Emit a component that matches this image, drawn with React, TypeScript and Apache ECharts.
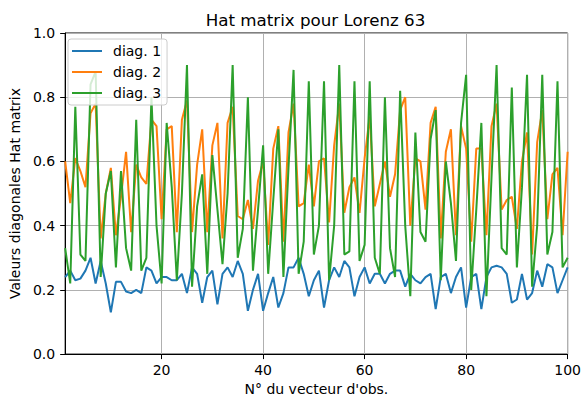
import React, { useEffect, useRef } from "react";
import * as echarts from "echarts";

const obsIndex: number[] = Array.from({ length: 100 }, (_, i) => i + 1);

const diag1: number[] = [
  0.24, 0.26, 0.23, 0.235, 0.26, 0.30, 0.22, 0.29, 0.22, 0.13,
  0.225, 0.225, 0.195, 0.19, 0.20, 0.19, 0.27, 0.26, 0.22, 0.24,
  0.24, 0.23, 0.23, 0.25, 0.19, 0.27, 0.25, 0.16, 0.24, 0.26,
  0.155, 0.25, 0.27, 0.24, 0.29, 0.25, 0.135, 0.20, 0.25, 0.135,
  0.19, 0.24, 0.145, 0.19, 0.27, 0.27, 0.30, 0.25, 0.18, 0.23,
  0.26, 0.145, 0.23, 0.27, 0.24, 0.29, 0.27, 0.18, 0.24, 0.27,
  0.22, 0.25, 0.25, 0.22, 0.25, 0.26, 0.26, 0.21, 0.25, 0.23,
  0.22, 0.24, 0.25, 0.14, 0.24, 0.25, 0.19, 0.24, 0.27, 0.145,
  0.24, 0.25, 0.14, 0.24, 0.27, 0.275, 0.27, 0.25, 0.16, 0.17,
  0.25, 0.17, 0.19, 0.26, 0.21, 0.28, 0.27, 0.19, 0.23, 0.27,
];

const diag2: number[] = [
  0.60, 0.47, 0.61, 0.57, 0.52, 0.75, 0.78, 0.36, 0.50, 0.58,
  0.37, 0.49, 0.63, 0.38, 0.59, 0.55, 0.53, 0.73, 0.71, 0.42,
  0.70, 0.71, 0.38, 0.73, 0.79, 0.38, 0.59, 0.70, 0.38, 0.65,
  0.72, 0.36, 0.72, 0.77, 0.43, 0.42, 0.48, 0.39, 0.54, 0.60,
  0.34, 0.64, 0.71, 0.35, 0.69, 0.78, 0.46, 0.47, 0.59, 0.46,
  0.60, 0.61, 0.41, 0.65, 0.78, 0.44, 0.52, 0.55, 0.44, 0.61,
  0.74, 0.46, 0.53, 0.60, 0.49, 0.56, 0.76, 0.80, 0.40, 0.61,
  0.60, 0.45, 0.72, 0.77, 0.36, 0.63, 0.70, 0.37, 0.71, 0.64,
  0.35, 0.64, 0.64, 0.37, 0.71, 0.78, 0.45, 0.48, 0.49, 0.39,
  0.60, 0.69, 0.31, 0.66, 0.76, 0.42, 0.56, 0.58, 0.37, 0.63,
];

const diag3: number[] = [
  0.33, 0.22, 0.77, 0.31, 0.29, 0.84, 0.88, 0.24, 0.50, 0.57,
  0.27, 0.57, 0.33, 0.26, 0.73, 0.26, 0.30, 0.80, 0.40, 0.22,
  0.72, 0.52, 0.23, 0.50, 0.90, 0.21, 0.46, 0.56, 0.25, 0.62,
  0.45, 0.28, 0.50, 0.90, 0.30, 0.39, 0.80, 0.26, 0.45, 0.65,
  0.25, 0.48, 0.70, 0.24, 0.58, 0.885, 0.25, 0.35, 0.85, 0.31,
  0.40, 0.85, 0.23, 0.40, 0.90, 0.31, 0.32, 0.85, 0.29, 0.34,
  0.85, 0.30, 0.25, 0.80, 0.33, 0.24, 0.82, 0.40, 0.18, 0.69,
  0.38, 0.35, 0.67, 0.76, 0.23, 0.60, 0.47, 0.29, 0.72, 0.87,
  0.20, 0.45, 0.72, 0.18, 0.55, 0.90, 0.33, 0.31, 0.83, 0.27,
  0.52, 0.87, 0.21, 0.40, 0.87, 0.31, 0.38, 0.85, 0.27, 0.30,
];

const seriesNames: string[] = ["diag. 1", "diag. 2", "diag. 3"];
const seriesColors: string[] = ["#1f77b4", "#ff7f0e", "#2ca02c"];
const xTicks: number[] = [20, 40, 60, 80, 100];

const titleText = "Hat matrix pour Lorenz 63";
const xName = "N° du vecteur d'obs.";
const yName = "Valeurs diagonales Hat matrix";

const FONT = "DejaVu Sans";

export default function App() {
  const ref = useRef<HTMLDivElement>(null);

  useEffect(() => {
    document.body.style.margin = "0";
    if (!ref.current) return;
    const chart = echarts.init(ref.current, undefined, { renderer: "svg" });
    const all = [diag1, diag2, diag3];
    chart.setOption({
      animation: false,
      backgroundColor: "#ffffff",
      textStyle: { fontFamily: FONT },
      title: {
        text: titleText,
        left: 315.5,
        top: 11,
        padding: 0,
        textAlign: "center",
        textStyle: { fontFamily: FONT, fontSize: 16.7, fontWeight: "normal", color: "#000" },
      },
      legend: {
        left: 68,
        top: 39,
        orient: "vertical",
        icon: "rect",
        itemWidth: 30,
        itemHeight: 2,
        itemGap: 5,
        padding: [4, 6, 4, 4],
        backgroundColor: "rgba(255,255,255,0.8)",
        borderColor: "#cccccc",
        borderWidth: 1,
        borderRadius: 3,
        data: seriesNames,
        textStyle: { fontFamily: FONT, fontSize: 14, color: "#000", lineHeight: 16, padding: [0, 0, 0, 6] },
      },
      grid: {
        left: 61,
        right: 13,
        top: 33,
        bottom: 44,
        show: true,
        borderColor: "#000",
        borderWidth: 1,
        backgroundColor: "transparent",
      },
      xAxis: {
        type: "value",
        min: 1,
        max: 100,
        name: xName,
        nameLocation: "middle",
        nameGap: 27,
        nameTextStyle: { fontFamily: FONT, fontSize: 14, color: "#000" },
        axisLine: { show: true, lineStyle: { color: "#000", width: 1 } },
        axisTick: { show: true, length: 5, lineStyle: { color: "#000" }, customValues: xTicks },
        axisLabel: { customValues: xTicks, margin: 9, fontFamily: FONT, fontSize: 14, color: "#000" },
        splitLine: { show: true, lineStyle: { color: "#b0b0b0", width: 1 } },
      },
      yAxis: {
        type: "value",
        min: 0,
        max: 1,
        interval: 0.2,
        name: yName,
        nameLocation: "middle",
        nameGap: 38,
        nameTextStyle: { fontFamily: FONT, fontSize: 14, color: "#000" },
        axisLine: { show: true, lineStyle: { color: "#000", width: 1 } },
        axisTick: { show: true, length: 5, lineStyle: { color: "#000" } },
        axisLabel: {
          margin: 10,
          fontFamily: FONT,
          fontSize: 14,
          color: "#000",
          formatter: (v: number) => v.toFixed(1),
        },
        splitLine: { show: true, lineStyle: { color: "#b0b0b0", width: 1 } },
      },
      series: all.map((vals, k) => ({
        name: seriesNames[k],
        type: "line",
        showSymbol: false,
        symbol: "none",
        color: seriesColors[k],
        lineStyle: { color: seriesColors[k], width: 2 },
        data: obsIndex.map((x, i) => [x, vals[i]]),
      })),
    });
    return () => chart.dispose();
  }, []);

  return (
    <div
      ref={ref}
      style={{ position: "absolute", left: 0, top: 0, width: 584, height: 401 }}
    />
  );
}
